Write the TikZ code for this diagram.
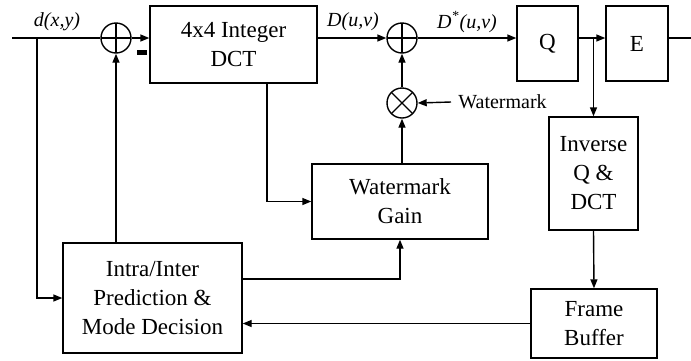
\documentclass[tikz,border=0pt]{standalone}
\usepackage{fontspec}
\setmainfont{Liberation Serif}
\usetikzlibrary{arrows.meta,calc,positioning}

\begin{document}
\begin{tikzpicture}[x=0.5pt,y=-0.5pt,line width=0.7pt,
  >={Triangle[length=4.5pt,width=3.5pt]},
  block/.style={draw,align=center,font=\fontsize{11.5}{14.5}\selectfont,inner sep=2pt},
  adder/.style={draw,circle,minimum size=15pt,inner sep=0pt,
    path picture={\draw (path picture bounding box.north) -- (path picture bounding box.south)
      (path picture bounding box.west) -- (path picture bounding box.east);}},
  mixer/.style={draw,circle,minimum size=15pt,inner sep=0pt,
    path picture={\draw (path picture bounding box.north west) -- (path picture bounding box.south east)
      (path picture bounding box.north east) -- (path picture bounding box.south west);}},
  sig/.style={font=\fontsize{10}{12}\selectfont\itshape}]
            \useasboundingbox (0,0) rectangle (691,360);
            % Define points
            \coordinate (in) at (12,38);
            \coordinate (out) at (691,38);
            \coordinate (split) at (37,38);
            % Blocks
            \node[block,minimum width=83.5pt,minimum height=38.5pt] (dct) at (233.5,44.5) {4x4 Integer\\DCT};
            \node[adder] (sum1) at (116,38) {};
            \node[adder] (sum2) at (402,38) {};
            \node[mixer] (mult) at (402,103) {};
            \node[block,minimum width=30.5pt,minimum height=37.5pt] (q) at (547.5,43.5) {Q};
            \node[block,minimum width=31pt,minimum height=37.5pt] (e) at (637,43.5) {E};
            \node[block,minimum width=44.5pt,minimum height=56.5pt] (inv) at (593.5,173.5) {Inverse\\Q \&\\DCT};
            \node[block,minimum width=63pt,minimum height=34.5pt] (fb) at (594,323.5) {Frame\\Buffer};
            \node[block,minimum width=88pt,minimum height=37.5pt] (gain) at (400,201.5) {Watermark\\Gain};
            \node[block,minimum width=89.5pt,minimum height=55pt] (intra) at (152.5,298) {Intra/Inter\\Prediction \&\\Mode Decision};
            % Label the signals
            \node[sig] (dlab) at (57,22) {d(x,y)};
            \node[sig] (Dlab) at (353,22) {D(u,v)};
            \node[sig] (Dslab) at (467,22) {D\textsuperscript{*}(u,v)};
            \node[font=\fontsize{10}{12}\selectfont,anchor=west] (wm) at (451,102) {Watermark};
            \draw[line width=2.5pt] (137,52) -- (147,52);
            % Forward path
            \draw (in) -- (sum1.west);
            \draw[->] (sum1.east) -- (sum1 -| dct.west);
            \draw[->] (sum1 -| dct.east) -- (sum2.west);
            \draw[->] (sum2.east) -- (sum2 -| q.west);
            \draw[->] (sum2 -| q.east) -- (sum2 -| e.west);
            \draw (sum2 -| e.east) -- (out);
            % Feedback loop
            \draw[->] (split) |- (intra.west);
            \draw[->] (sum1.south |- intra.north) -- (sum1.south);
            \draw[->] (sum2 -| inv.north) -- (inv.north);
            \draw[->] (inv.south) -- (fb.north);
            \draw[->] (fb.west) -- (fb.west -| intra.east);
            \draw[->] ([yshift=9.5pt]intra.east) -| (gain.south);
            % Watermark branch
            \draw[->] ([xshift=16.75pt]dct.south) |- (gain.west);
            \draw[->] (mult.south |- gain.north) -- (mult.south);
            \draw[->] (mult.north) -- (sum2.south);
            \draw[->] (wm.west) -- (mult.east);
          \end{tikzpicture}
\end{document}
